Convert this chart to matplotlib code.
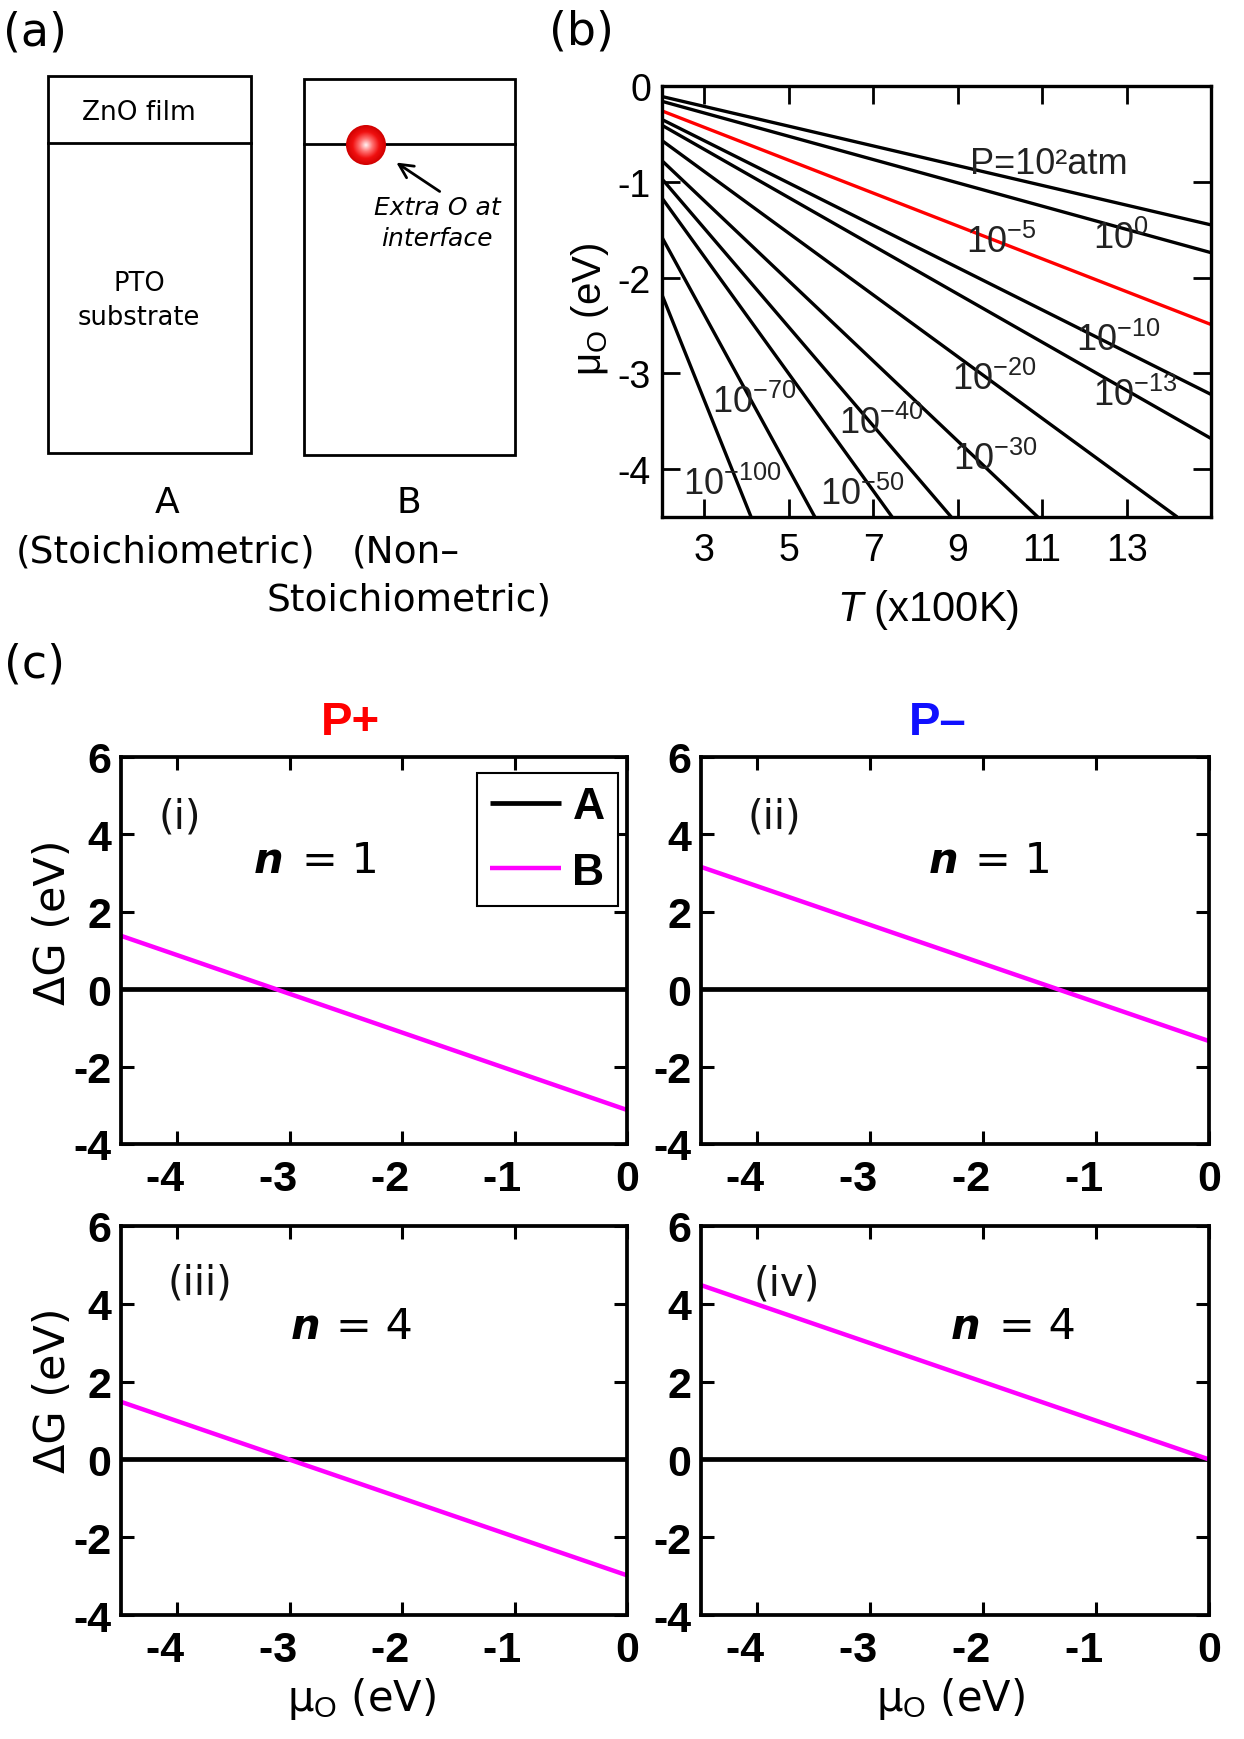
import numpy as np
import matplotlib
matplotlib.use('Agg')
import matplotlib.pyplot as plt
from matplotlib.patches import Rectangle, Circle
from matplotlib.colors import LinearSegmentedColormap

plt.rcParams['font.family'] = ['DejaVu Sans']
plt.rcParams['axes.unicode_minus'] = False
plt.rcParams['mathtext.fontset'] = 'custom'
plt.rcParams['mathtext.rm'] = 'Liberation Sans'
plt.rcParams['mathtext.it'] = 'Liberation Sans:italic'
plt.rcParams['mathtext.bf'] = 'Liberation Sans:bold'

W, H = 1244, 1740

# ---------------- (b) chemical potential of O vs temperature ----------------
p_labels = ['P=10²atm', '$10^{0}$', '$10^{-5}$', '$10^{-10}$', '$10^{-13}$', '$10^{-20}$',
            '$10^{-30}$', '$10^{-40}$', '$10^{-50}$', '$10^{-70}$', '$10^{-100}$']
T_start = [2.0, 2.0, 2.0, 2.0, 2.0, 2.0, 2.0, 2.0, 2.0, 2.0, 2.0]
mu_start = [-0.11, -0.16, -0.26, -0.35, -0.41, -0.57, -0.78, -0.97, -1.17, -1.58, -2.18]
T_end = [15.0, 15.0, 15.0, 15.0, 15.0, 14.2, 10.9, 8.85, 7.45, 5.62, 4.11]
mu_end = [-1.45, -1.74, -2.49, -3.22, -3.68, -4.5, -4.5, -4.5, -4.5, -4.5, -4.5]
# where each label sits (left edge, baseline)
lab_T = [9.3, 12.2, 9.2, 11.8, 12.2, 8.86, 8.9, 6.2, 5.75, 3.18, 2.5]
lab_mu = [-0.91, -1.69, -1.73, -2.76, -3.33, -3.16, -4.0, -3.62, -4.36, -3.40, -4.26]
T_ticks = [3, 5, 7, 9, 11, 13]
mu_ticks_b = [0, -1, -2, -3, -4]

# ---------------- (c) formation energy vs mu_O ----------------
mu_O = [-4.5, 0.0]
dG_A = [0.0, 0.0]
dG_B_i = [1.38, -3.12]
dG_B_ii = [3.16, -1.34]
dG_B_iii = [1.48, -2.98]
dG_B_iv = [4.48, 0.0]
mu_ticks = [-4, -3, -2, -1, 0]
mu_tick_labels = ['-4  ', '-3  ', '-2  ', '-1  ', '0']
dG_ticks = [-4, -2, 0, 2, 4, 6]


def px_rect(l, t, r, b):
    return [l / W, 1 - b / H, (r - l) / W, (b - t) / H]


fig = plt.figure(figsize=(W / 100, H / 100), dpi=100)


def ftext(x, y, s, **kw):
    fig.text(x / W, 1 - y / H, s, **kw)


# ---------------- (a) schematic ----------------
axa = fig.add_axes(px_rect(0, 0, 600, 640))
axa.set_xlim(0, 600)
axa.set_ylim(640, 0)
axa.axis('off')

axa.add_patch(Rectangle((47.5, 77), 203.5, 377, fill=False, lw=2, ec='black'))
axa.plot([47.5, 251], [144, 144], color='black', lw=2)
axa.add_patch(Rectangle((304, 80), 211, 376, fill=False, lw=2, ec='black'))
axa.plot([304, 515], [145, 145], color='black', lw=2)

cx, cy, r = 366, 146, 20
yy, xx = np.mgrid[-1:1:200j, -1:1:200j]
rr = np.sqrt(xx ** 2 + yy ** 2)
ball_cmap = LinearSegmentedColormap.from_list('ball', ['#fff4f4', '#ff7070', '#f01010', '#d00000'])
im = axa.imshow(rr, extent=(cx - r, cx + r, cy + r, cy - r), cmap=ball_cmap, vmin=0, vmax=1,
                aspect='auto', zorder=3)
im.set_clip_path(Circle((cx, cy), r, transform=axa.transData))
axa.set_xlim(0, 600)
axa.set_ylim(640, 0)

axa.annotate('', xy=(394, 162), xytext=(442, 194),
             arrowprops=dict(arrowstyle='->', lw=2, color='black', mutation_scale=25))

axa.text(139, 113, 'ZnO film', fontsize=19, ha='center', va='center')
axa.text(139, 284, 'PTO', fontsize=18.5, ha='center', va='center')
axa.text(139, 318, 'substrate', fontsize=18.5, ha='center', va='center')
axa.text(437, 208, 'Extra O at', fontsize=18, style='italic', ha='center', va='center')
axa.text(437, 239, 'interface', fontsize=18, style='italic', ha='center', va='center')
axa.text(167, 503, 'A', fontsize=26, ha='center', va='center')
axa.text(166, 553, '(Stoichiometric)', fontsize=27, ha='center', va='center')
axa.text(409, 503, 'B', fontsize=26, ha='center', va='center')
axa.text(352, 553, '(Non–', fontsize=27, ha='left', va='center')
axa.text(409, 600, 'Stoichiometric)', fontsize=27, ha='center', va='center')

ftext(35, 33, '(a)', fontsize=33, ha='center', va='center')
ftext(581, 32, '(b)', fontsize=33, ha='center', va='center')
ftext(35, 665, '(c)', fontsize=33, ha='center', va='center')

# ---------------- (b) ----------------
axb = fig.add_axes(px_rect(662, 87, 1211, 518))
for i in range(len(p_labels)):
    col = 'red' if i == 2 else 'black'
    axb.plot([T_start[i], T_end[i]], [mu_start[i], mu_end[i]], color=col, lw=2.4,
             solid_capstyle='butt')
    axb.text(lab_T[i], lab_mu[i], p_labels[i], fontsize=26, family='Liberation Sans',
             color='#222222', ha='left', va='baseline')
axb.set_xlim(2, 15)
axb.set_ylim(-4.5, 0)
axb.set_xticks(T_ticks)
axb.set_yticks(mu_ticks_b)
axb.tick_params(direction='in', top=True, right=True, length=13, width=2, labelsize=27)
axb.tick_params(axis='x', pad=11)
axb.tick_params(axis='y', pad=8)
for t in axb.get_xticklabels() + axb.get_yticklabels():
    t.set_fontfamily('Liberation Sans')
for s in axb.spines.values():
    s.set_linewidth(2.4)
ftext(590, 309, 'μ$_{\\rm O}$ (eV)', fontsize=29, family='Liberation Sans', rotation=90,
      ha='center', va='center')
ftext(928, 610, '$\\mathit{T}$ (x100K)', fontsize=30, family='Liberation Sans',
      ha='center', va='center')

# ---------------- (c) ----------------
panels = [
    (px_rect(121, 758, 627, 1145), dG_B_i, '(i)', (180, 817), 'n', '1', (283, 302, 873)),
    (px_rect(701, 758, 1209, 1145), dG_B_ii, '(ii)', (774, 817), 'n', '1', (958, 975, 873)),
    (px_rect(121, 1227, 627, 1616), dG_B_iii, '(iii)', (200, 1284), 'n', '4', (320, 336, 1339)),
    (px_rect(701, 1227, 1209, 1616), dG_B_iv, '(iv)', (787, 1285), 'n', '4', (980, 999, 1339)),
]
axes_c = []
for rect, dgb, tag, tagpos, nsym, nval, npos in panels:
    ax = fig.add_axes(rect)
    ax.plot(mu_O, dG_A, color='black', lw=3.4, label='A', solid_capstyle='butt')
    ax.plot(mu_O, dgb, color='#ff00ff', lw=3.2, label='B', solid_capstyle='butt')
    ax.set_xlim(-4.5, 0)
    ax.set_ylim(-4, 6)
    ax.set_xticks(mu_ticks)
    ax.set_xticklabels(mu_tick_labels)
    ax.set_yticks(dG_ticks)
    ax.tick_params(direction='in', top=True, right=True, length=9.5, width=2.2, labelsize=31)
    ax.tick_params(axis='x', pad=11)
    ax.tick_params(axis='y', pad=7)
    for t in ax.get_xticklabels() + ax.get_yticklabels():
        t.set_fontfamily('Liberation Sans')
        t.set_fontweight('bold')
    for s in ax.spines.values():
        s.set_linewidth(2.7)
    ftext(tagpos[0], tagpos[1], tag, fontsize=29, color='#111111', ha='center', va='center')
    ftext(npos[0], npos[2], nsym, fontsize=30, weight='bold', style='italic',
          ha='right', va='baseline')
    ftext(npos[1], npos[2], '= ' + nval, fontsize=31, ha='left', va='baseline')
    axes_c.append(ax)

leg = axes_c[0].legend(loc='upper right', bbox_to_anchor=(0.982, 0.959), borderaxespad=0,
                       prop={'family': 'Liberation Sans', 'weight': 'bold', 'size': 32},
                       handlelength=1.6, handletextpad=0.25, labelspacing=0.55,
                       borderpad=0.3, fancybox=False, framealpha=1)
leg.get_frame().set_edgecolor('black')
leg.get_frame().set_linewidth(1.5)

ftext(350, 723, 'P+', fontsize=34, weight='bold', family='Liberation Sans', color='#ff0000',
      ha='center', va='center')
ftext(938, 723, 'P–', fontsize=34, weight='bold', family='Liberation Sans', color='#1010ff',
      ha='center', va='center')

for y in (922, 1390):
    ftext(53, y, 'ΔG (eV)', fontsize=31, rotation=90, ha='center', va='center')
for x in (361, 950):
    ftext(x, 1699, 'μ$_{\\rm O}$ (eV)', fontsize=30, ha='center', va='center')

fig.savefig('out.png', dpi=100)
